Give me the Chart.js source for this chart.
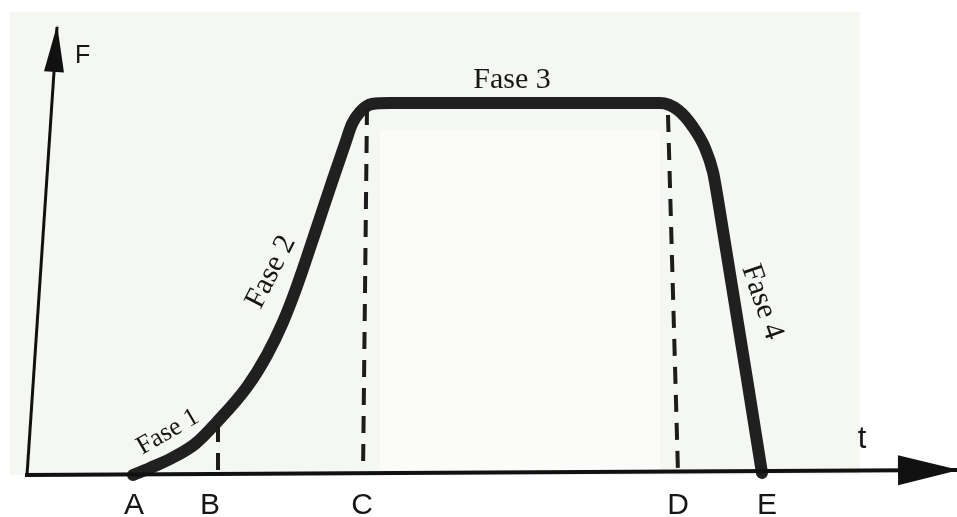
<!DOCTYPE html>
<html>
<head>
<meta charset="utf-8">
<script src="https://cdn.jsdelivr.net/npm/chart.js@4.4.1/dist/chart.umd.min.js"></script>
<style>
  html, body { margin: 0; padding: 0; background: #ffffff; }
  #wrap { width: 957px; height: 517px; }
</style>
</head>
<body>
<div id="wrap"><canvas id="faseChart" width="957" height="517"></canvas></div>
<script>
// curva fuerza / tiempo (t = tiempo, F = fuerza, unidades arbitrarias)
const curvaT = [106, 123, 143, 168, 190, 220, 240, 256, 270, 290, 306, 318, 325, 333, 345, 363, 633, 651, 666, 678, 686, 691, 735];
const curvaF = [0, 7, 16, 31, 53, 88, 120, 153, 189, 248, 296, 331, 351, 363, 371, 372, 372, 365, 348, 327, 303, 275, 2];

// lineas discontinuas (B, C, D)
const guiaB = [{ x: 191, y: 50 }, { x: 191, y: 0 }];
const guiaC = [{ x: 340, y: 367 }, { x: 336, y: 0 }];
const guiaD = [{ x: 641, y: 360 }, { x: 651, y: 2 }];

// ejes (el ultimo punto es la punta de la flecha)
const ejeF = [{ x: 0, y: 0 }, { x: 30, y: 448 }];
const ejeT = [{ x: -2, y: 0 }, { x: 930, y: 5 }];

// etiquetas del eje t
const etiquetas = ["A", "B", "C", "D", "E"];
const etiquetasT = [107, 183, 335, 651, 740];

// textos de las fases
const fasesTexto = ["Fase 1", "Fase 2", "Fase 3", "Fase 4"];
const fasesT = [141, 244, 485, 735];
const fasesF = [43, 203, 395, 173];
const fasesAngulo = [-30, -63, 0, 71];

const curva = curvaT.map((t, i) => ({ x: t, y: curvaF[i] }));

const fondoPlugin = {
    id: "fondo",
    beforeDraw(chart) {
        const ctx = chart.ctx;
        ctx.save();
        ctx.fillStyle = "#ffffff";
        ctx.fillRect(0, 0, chart.width, chart.height);
        ctx.fillStyle = "#f4f7f2";
        ctx.fillRect(10, 12, 850, 463);
        ctx.fillStyle = "#fbfcfa";
        ctx.fillRect(380, 130, 280, 340);
        ctx.restore();
    },
};

function flecha(ctx, chart, puntos, largo, ancho) {
    const sx = chart.scales.x;
    const sy = chart.scales.y;
    const a = puntos[puntos.length - 2];
    const b = puntos[puntos.length - 1];
    const x0 = sx.getPixelForValue(a.x), y0 = sy.getPixelForValue(a.y);
    const x1 = sx.getPixelForValue(b.x), y1 = sy.getPixelForValue(b.y);
    const ang = Math.atan2(y1 - y0, x1 - x0);
    ctx.save();
    ctx.translate(x1, y1);
    ctx.rotate(ang);
    ctx.fillStyle = "#111111";
    ctx.beginPath();
    ctx.moveTo(2, 0);
    ctx.lineTo(-largo, -ancho);
    ctx.lineTo(-largo, ancho);
    ctx.closePath();
    ctx.fill();
    ctx.restore();
}

const textosPlugin = {
    id: "textos",
    afterDatasetsDraw(chart) {
        const ctx = chart.ctx;
        const sx = chart.scales.x;
        const sy = chart.scales.y;

        flecha(ctx, chart, ejeF, 45, 10);
        flecha(ctx, chart, ejeT, 59, 15);

        ctx.save();
        ctx.fillStyle = "#161616";

        // letras bajo el eje
        ctx.font = "30px 'Liberation Sans', Arial, sans-serif";
        ctx.textAlign = "center";
        ctx.textBaseline = "alphabetic";
        etiquetas.forEach((txt, i) => {
            ctx.fillText(txt, sx.getPixelForValue(etiquetasT[i]), sy.getPixelForValue(0) + 39);
        });

        // nombres de los ejes
        ctx.font = "25px 'Liberation Sans', Arial, sans-serif";
        ctx.textAlign = "left";
        ctx.fillText("F", sx.getPixelForValue(48), sy.getPixelForValue(412));
        ctx.font = "31px 'Liberation Sans', Arial, sans-serif";
        ctx.textAlign = "center";
        ctx.fillText("t", sx.getPixelForValue(835), sy.getPixelForValue(27));

        // fases
        ctx.textBaseline = "middle";
        fasesTexto.forEach((txt, i) => {
            ctx.save();
            ctx.translate(sx.getPixelForValue(fasesT[i]), sy.getPixelForValue(fasesF[i]));
            ctx.rotate(fasesAngulo[i] * Math.PI / 180);
            if (i === 0) ctx.font = "26px 'Liberation Serif', 'Times New Roman', serif";
            else ctx.font = "30px 'Liberation Serif', 'Times New Roman', serif";
            ctx.fillText(txt, 0, 0);
            ctx.restore();
        });
        ctx.restore();
    },
};

const guiaEstilo = {
    showLine: true,
    borderColor: "#1c1c1c",
    borderWidth: 4,
    borderDash: [17, 11],
    pointRadius: 0,
    fill: false,
};

const ctx = document.getElementById("faseChart");

new Chart(ctx, {
    type: "scatter",
    data: {
        datasets: [
            { label: "eje F", data: ejeF, showLine: true, borderColor: "#111111", borderWidth: 3, pointRadius: 0 },
            { label: "eje t", data: ejeT, showLine: true, borderColor: "#111111", borderWidth: 4, pointRadius: 0 },
            { label: "B", data: guiaB, ...guiaEstilo },
            { label: "C", data: guiaC, ...guiaEstilo },
            { label: "D", data: guiaD, ...guiaEstilo },
            {
                label: "Fuerza",
                data: curva,
                showLine: true,
                borderColor: "#202020",
                borderWidth: 12,
                borderCapStyle: "round",
                borderJoinStyle: "round",
                cubicInterpolationMode: "monotone",
                pointRadius: 0,
            },
        ],
    },
    options: {
        responsive: false,
        animation: false,
        events: [],
        layout: { padding: 0 },
        plugins: {
            legend: { display: false },
            tooltip: { enabled: false },
        },
        scales: {
            x: { type: "linear", min: -27, max: 930, display: false },
            y: { type: "linear", min: -42, max: 475, display: false },
        },
    },
    plugins: [fondoPlugin, textosPlugin],
});
</script>
</body>
</html>
